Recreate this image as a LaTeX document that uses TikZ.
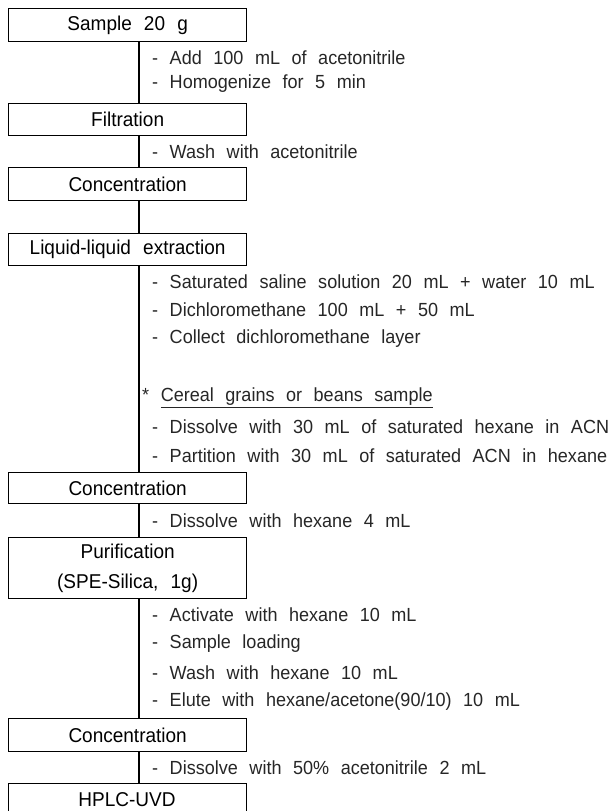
\documentclass[tikz,border=0pt]{standalone}
\usepackage{fontspec}
\setmainfont{Liberation Sans}[FakeStretch=0.95,WordSpace={2.3,0,0}]
\begin{document}
\begin{tikzpicture}[x=1pt,y=-1pt,
  stepbox/.style={draw=black,line width=1.3pt,minimum width=238pt,inner sep=0pt,align=center,font=\fontsize{20}{30}\selectfont,anchor=north west},
  note/.style={anchor=west,inner sep=0pt,text=black!85,font=\fontsize{19}{22}\selectfont},
  spine/.style={line width=1.5pt}]
\useasboundingbox (0,0) rectangle (608,811);
\begin{scope}
\clip (0,0) rectangle (608,811);
\node[stepbox,minimum height=33pt] (b1) at (8,8) {Sample 20 g};
\node[stepbox,minimum height=32pt] (b2) at (8,103) {Filtration};
\node[stepbox,minimum height=33pt] (b3) at (8,167) {Concentration};
\node[stepbox,minimum height=32pt] (b4) at (8,233) {Liquid-liquid extraction};
\node[stepbox,minimum height=31pt] (b5) at (8,472) {Concentration};
\node[stepbox,minimum height=61pt] (b6) at (8,537) {Purification\\(SPE-Silica, 1g)};
\node[stepbox,minimum height=33pt] (b7) at (8,718) {Concentration};
\node[stepbox,minimum height=40pt] (b8) at (8,783) {};
\node[font=\fontsize{20}{22}\selectfont,inner sep=0pt] (t8) at (127,800) {HPLC-UVD};
\end{scope}
\coordinate (sp) at (139,0);
\draw[spine] (b1.south -| sp) -- (b2.north -| sp);
\draw[spine] (b2.south -| sp) -- (b3.north -| sp);
\draw[spine] (b3.south -| sp) -- (b4.north -| sp);
\draw[spine] (b4.south -| sp) -- (b5.north -| sp);
\draw[spine] (b5.south -| sp) -- (b6.north -| sp);
\draw[spine] (b6.south -| sp) -- (b7.north -| sp);
\draw[spine] (b7.south -| sp) -- (b8.north -| sp);
\node[note] (n1) at (152,58) {- Add 100 mL of acetonitrile};
\node[note] (n2) at (152,84) {- Homogenize for 5 min};
\node[note] (n3) at (152,152) {- Wash with acetonitrile};
\node[note] (n4) at (152,282) {- Saturated saline solution 20 mL + water 10 mL};
\node[note] (n5) at (152,310) {- Dichloromethane 100 mL + 50 mL};
\node[note] (n6) at (152,339) {- Collect dichloromethane layer};
\node[note] (n7) at (142,398) {* \underline{Cereal grains or beans sample}};
\node[note] (n8) at (152,427) {- Dissolve with 30 mL of saturated hexane in ACN};
\node[note] (n9) at (152,456) {- Partition with 30 mL of saturated ACN in hexane};
\node[note] (n10) at (152,521) {- Dissolve with hexane 4 mL};
\node[note] (n11) at (152,615) {- Activate with hexane 10 mL};
\node[note] (n12) at (152,644) {- Sample loading};
\node[note] (n13) at (152,673) {- Wash with hexane 10 mL};
\node[note] (n14) at (152,702) {- Elute with hexane/acetone(90/10) 10 mL};
\node[note] (n15) at (152,768) {- Dissolve with 50\% acetonitrile 2 mL};
\end{tikzpicture}
\end{document}
